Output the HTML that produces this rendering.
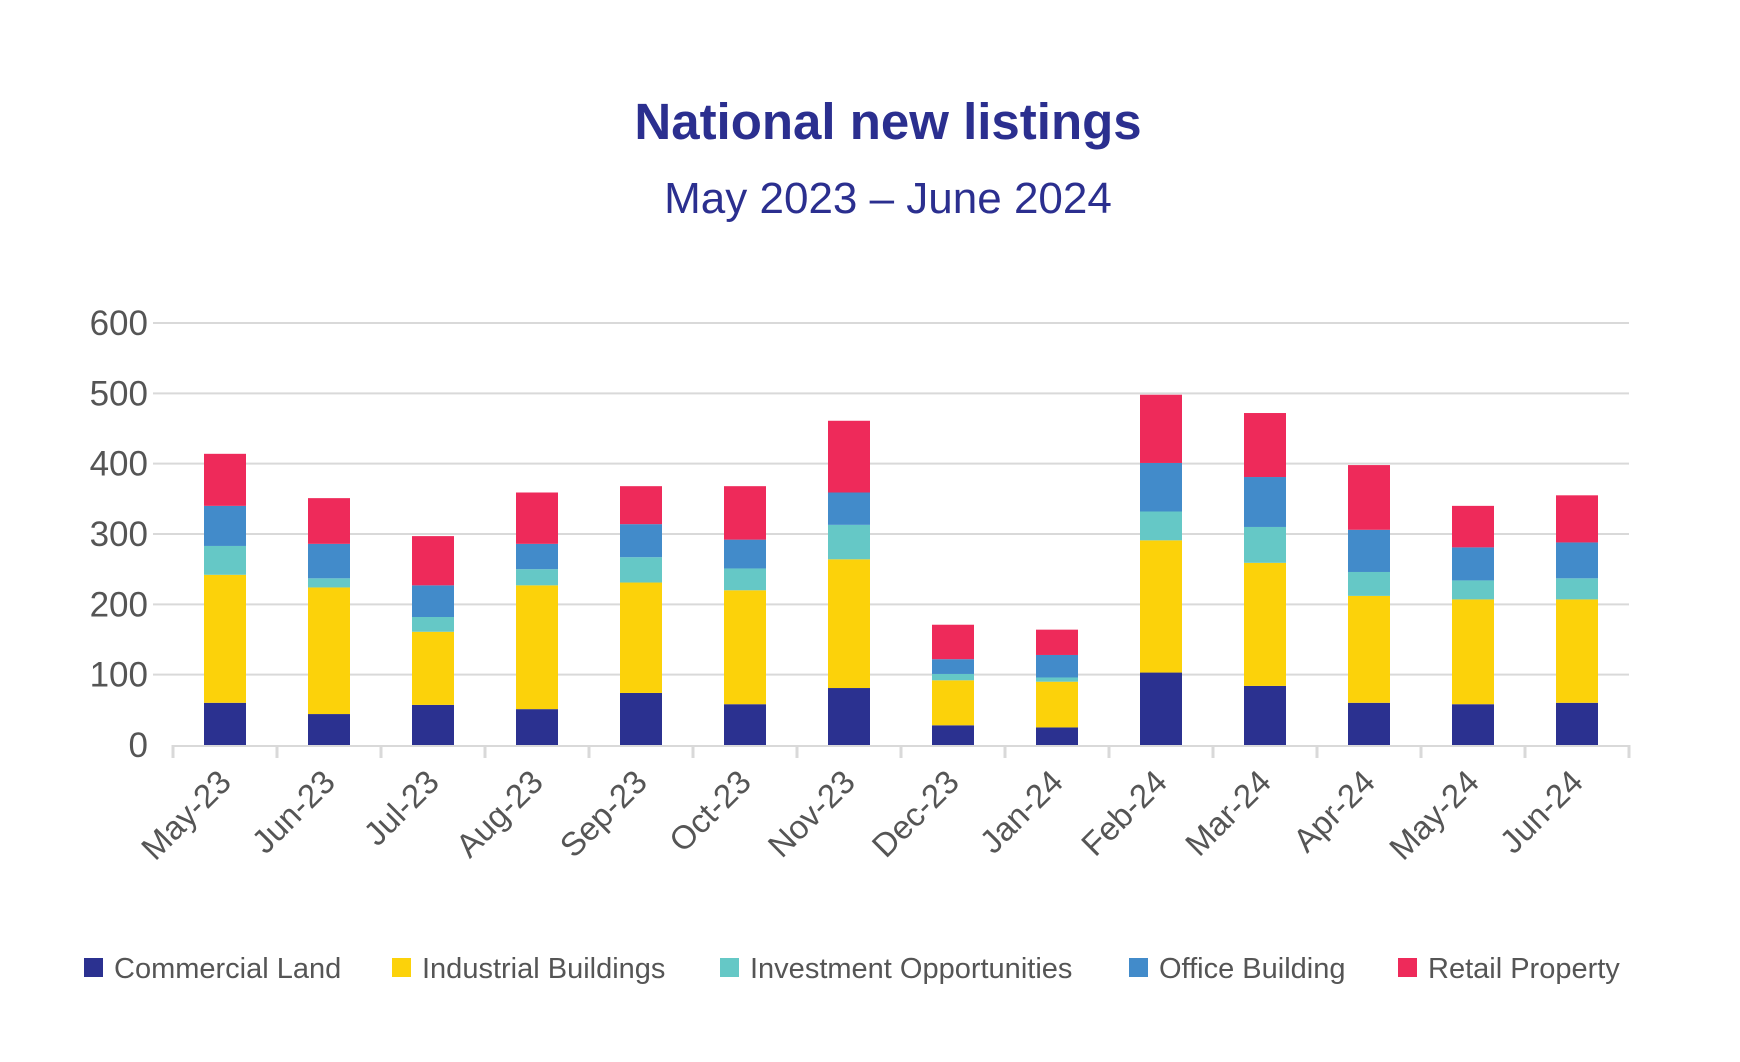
<!DOCTYPE html>
<html><head><meta charset="utf-8"><style>
body{margin:0;background:#fff;}
svg{display:block;font-family:"Liberation Sans",sans-serif;}
</style></head><body>
<svg id="chart" width="1740" height="1062" viewBox="0 0 1740 1062">
<text x="888" y="139" text-anchor="middle" font-size="51" font-weight="bold" fill="#2b2f8f">National new listings</text>
<text x="888" y="213" text-anchor="middle" font-size="44" fill="#2b2f8f">May 2023 – June 2024</text>
<g id="grid"></g><g id="bars"></g><g id="axis"></g>
<g id="legend"></g>
</svg>
<script>
const categories=["May-23","Jun-23","Jul-23","Aug-23","Sep-23","Oct-23","Nov-23","Dec-23","Jan-24","Feb-24","Mar-24","Apr-24","May-24","Jun-24"];
const commercialLand=[60,44,57,51,74,58,81,28,25,103,84,60,58,60];
const industrialBuildings=[182,180,104,176,157,162,183,64,65,188,175,152,149,147];
const investmentOpportunities=[41,13,21,23,36,31,49,9,6,41,51,34,27,30];
const officeBuilding=[57,49,45,36,47,41,46,21,32,69,71,60,47,51];
const retailProperty=[74,65,70,73,54,76,102,49,36,97,91,92,59,67];
const yTicks=[0,100,200,300,400,500,600];
const seriesNames=["Commercial Land","Industrial Buildings","Investment Opportunities","Office Building","Retail Property"];
const seriesData=[commercialLand,industrialBuildings,investmentOpportunities,officeBuilding,retailProperty];
const colors=["#2b3190","#fcd20a","#65c8c6","#428bca","#ee2a5a"];
const NS="http://www.w3.org/2000/svg";
const x0=173,x1=1629,yBase=745,yTop=323,yMax=600;
const bw=(x1-x0)/categories.length;
const y=v=>yBase-(v/yMax)*(yBase-yTop);
function mk(tag,attrs,parent){const e=document.createElementNS(NS,tag);for(const k in attrs)e.setAttribute(k,attrs[k]);parent.appendChild(e);return e;}
const grid=document.getElementById('grid'),bars=document.getElementById('bars'),axis=document.getElementById('axis'),legend=document.getElementById('legend');
yTicks.forEach(t=>{
  if(t>0){const l=mk('line',{x1:x0-20,x2:x1,y1:y(t),y2:y(t),stroke:'#d9d9d9','stroke-width':2},grid);
  
  }
  const tx=mk('text',{x:148,y:y(t)+12,'text-anchor':'end','font-size':35,fill:'#555'},axis);
  tx.textContent=t;
  
  
});
const ax=mk('line',{x1:x0,x2:x1,y1:yBase+1,y2:yBase+1,stroke:'#d9d9d9','stroke-width':2},axis);


for(let i=0;i<=categories.length;i++){
  const tk=mk('line',{x1:x0+i*bw,x2:x0+i*bw,y1:yBase,y2:yBase+13,stroke:'#d9d9d9','stroke-width':3},axis);
  
  
}
categories.forEach((c,i)=>{
  const cx=x0+(i+0.5)*bw;let acc=0;
  seriesData.forEach((s,k)=>{
    const v=s[i];
    const r=mk('rect',{x:cx-21,y:y(acc+v),width:42,height:y(acc)-y(acc+v),fill:colors[k]},bars);
    
    
    acc+=v;
  });
  const lx=cx+8,ly=784;
  const t=mk('text',{x:lx,y:ly,'text-anchor':'end','font-size':33,fill:'#555',transform:`rotate(-45 ${lx} ${ly})`},axis);
  t.textContent=c;
  
  
});
const legX=[84,392,720,1129,1398];
seriesNames.forEach((n,k)=>{
  const g=mk('g',{},legend);
  
  
  mk('rect',{x:legX[k],y:958,width:19,height:19,fill:colors[k]},g);
  const t=mk('text',{x:legX[k]+30,y:978,'font-size':29,fill:'#555'},g);
  t.textContent=n;
});
</script>
</body></html>
